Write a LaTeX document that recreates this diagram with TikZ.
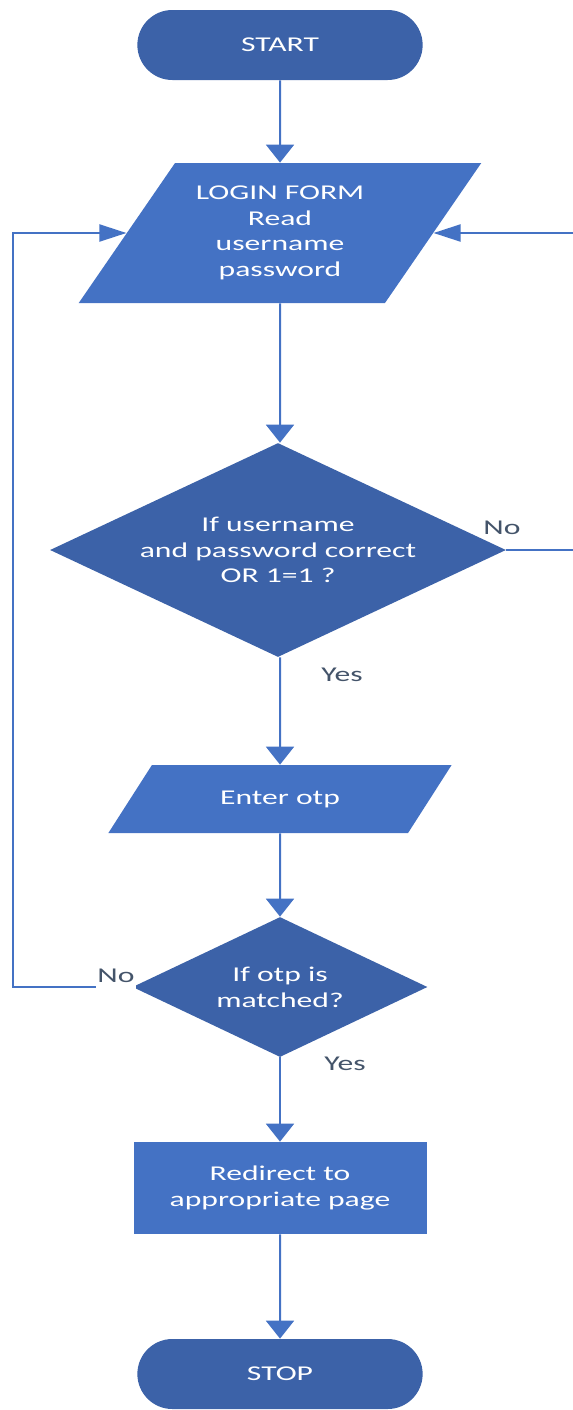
\documentclass[tikz,border=0pt]{standalone}
\usepackage{fontspec}
\setmainfont{Carlito}[FakeStretch=1.5]
\usetikzlibrary{shapes.geometric,shapes.misc,arrows.meta}

\definecolor{termblue}{HTML}{3C62A8}
\definecolor{boxblue}{HTML}{4472C4}
\definecolor{labelgray}{HTML}{44546A}
\newlength{\px}\setlength{\px}{0.02cm}

\tikzset{
	terminal/.style={rounded rectangle, fill=termblue, text=white, minimum width=297\px, minimum height=70\px},
	ioform/.style={trapezium, trapezium left angle=52, trapezium right angle=128, trapezium stretches=true, fill=boxblue, text=white, align=center},
	decision/.style={diamond, aspect=2.1, inner sep=0pt, fill=termblue, text=white, align=center},
	process/.style={rectangle, fill=boxblue, text=white, align=center, minimum width=293\px, minimum height=92\px},
	flow/.style={draw=boxblue, line width=0.04cm, -{Triangle[length=0.36cm,width=0.56cm]}},
	sideflow/.style={draw=boxblue, line width=0.04cm, -{Triangle[length=0.54cm,width=0.34cm]}},
	branch/.style={text=labelgray},
}

\begin{document}
\begin{tikzpicture}[x=0.02cm, y=-0.02cm, every node/.style={font=\fontsize{12}{14.6}\selectfont}]
				\useasboundingbox (0,0) rectangle (572,1410);
				\node[terminal] (start) at (280,45) {START};
				\node[ioform, minimum width=403\px, minimum height=140\px] (login) at (280,233) {LOGIN FORM\\Read\\username\\password};
				\node[decision, minimum width=456\px, minimum height=214\px] (check) at (278,550) {If username\\and password correct\\OR 1=1 ?};
				\node[ioform, minimum width=346\px, minimum height=68\px] (otp) at (280,799) {Enter otp};
				\node[decision, minimum width=295\px, minimum height=140\px] (match) at (280,987) {If otp is\\matched?};
				\node[process] (redirect) at (280,1188) {Redirect to\\appropriate page};
				\node[terminal] (stop) at (280,1374) {STOP};
				
				\draw[flow] (start) -- (login);
				\draw[flow] (login) -- (login |- check.north);
				\draw[flow] (check.south -| otp) -- (otp);
				\draw[flow] (otp) -- (match);
				\draw[flow] (match) -- (redirect);
				\draw[flow] (redirect) -- (stop);
				
				\coordinate (rightrail) at (574,550);
				\coordinate (leftrail) at (13,987);
				\draw[sideflow] (check.east) -- (rightrail) |- (login.right side);
				\draw[sideflow] (match.west) -- (leftrail) |- (login.left side);
				
				\node[branch] (no1) at (502,528) {No};
				\node[branch] (yes1) at (342,675) {Yes};
				\node[branch, fill=white, inner xsep=1pt] (no2) at (116,976) {No};
				\node[branch] (yes2) at (345,1064) {Yes};
			\end{tikzpicture}
\end{document}
